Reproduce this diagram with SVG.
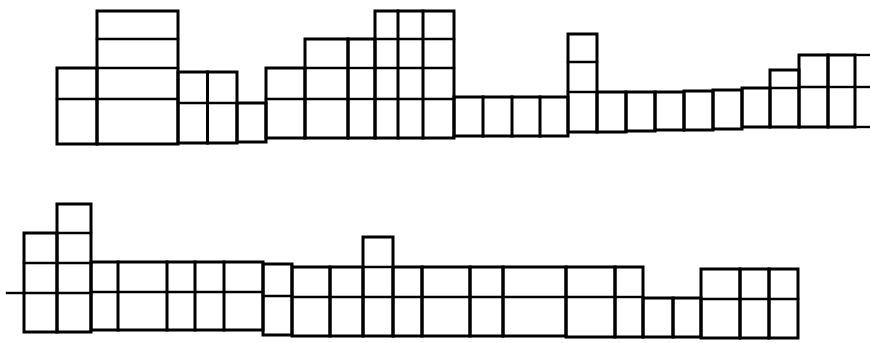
<svg xmlns="http://www.w3.org/2000/svg" width="870" height="343" viewBox="0 0 870 343">
<style>
rect,line,polyline{fill:none;stroke:#000;stroke-width:3;stroke-linecap:square}
.t{stroke-width:2.4}
</style>
<rect x="0" y="0" width="870" height="343" fill="#fff" stroke="none" style="fill:#fff;stroke:none"/>
<g id="top-row">
<g id="A"><rect x="57" y="68" width="40" height="76"/><line class="t" x1="57" y1="99" x2="97" y2="99"/></g>
<g id="B"><rect x="97" y="11" width="81" height="133"/><line class="t" x1="97" y1="39" x2="178" y2="39"/><line class="t" x1="97" y1="68" x2="178" y2="68"/><line class="t" x1="97" y1="99" x2="178" y2="99"/></g>
<g id="C"><rect x="178" y="72" width="59" height="71"/><line x1="207.5" y1="72" x2="207.5" y2="143"/><line class="t" x1="178" y1="103" x2="237" y2="103"/></g>
<g id="D"><rect x="237" y="103" width="29" height="39"/></g>
<g id="E"><rect x="266" y="68" width="39" height="70"/><line class="t" x1="266" y1="99" x2="305" y2="99"/></g>
<g id="F"><rect x="305" y="39" width="43" height="99"/><line class="t" x1="305" y1="68" x2="348" y2="68"/><line class="t" x1="305" y1="99" x2="348" y2="99"/></g>
<g id="G"><rect x="348" y="39" width="27" height="99"/><line class="t" x1="348" y1="68" x2="375" y2="68"/><line class="t" x1="348" y1="99" x2="375" y2="99"/></g>
<g id="H"><rect x="375" y="11" width="79" height="127"/><line x1="398" y1="11" x2="398" y2="138"/><line x1="423" y1="11" x2="423" y2="138"/><line class="t" x1="375" y1="39" x2="454" y2="39"/><line class="t" x1="375" y1="68" x2="454" y2="68"/><line class="t" x1="375" y1="99" x2="454" y2="99"/></g>
<g id="I"><rect x="454" y="97" width="114" height="39"/><line x1="483" y1="97" x2="483" y2="136"/><line x1="512" y1="97" x2="512" y2="136"/><line x1="540" y1="97" x2="540" y2="136"/></g>
<g id="J"><rect x="568" y="34" width="29" height="98"/><line class="t" x1="568" y1="62" x2="597" y2="62"/><line class="t" x1="568" y1="92" x2="597" y2="92"/></g>
<g id="K"><rect x="597" y="92" width="29" height="40"/></g>
<g id="L"><rect x="626" y="92" width="29" height="39"/></g>
<g id="M"><rect x="655" y="92" width="29" height="38"/></g>
<g id="N"><rect x="684" y="91" width="29" height="39"/></g>
<g id="O"><rect x="713" y="90" width="29" height="39"/></g>
<g id="P"><rect x="742" y="88" width="28" height="39"/></g>
<g id="Q"><rect x="770" y="70" width="29" height="57"/><line class="t" x1="770" y1="88" x2="799" y2="88"/></g>
<g id="R"><rect x="799" y="55" width="29" height="72"/><line class="t" x1="799" y1="87" x2="828" y2="87"/></g>
<g id="S"><rect x="828" y="55" width="27" height="72"/><line class="t" x1="828" y1="87" x2="855" y2="87"/></g>
<g id="S-open"><line class="t" x1="855" y1="55" x2="870" y2="55"/><line class="t" x1="855" y1="87" x2="870" y2="87"/><line class="t" x1="855" y1="127" x2="870" y2="127"/></g>
</g>
<g id="bottom-row">
<g id="lead"><line class="t" x1="7" y1="293" x2="24" y2="293"/></g>
<g id="T"><rect x="24" y="233" width="33" height="99"/><line class="t" x1="24" y1="263" x2="57" y2="263"/><line class="t" x1="24" y1="293" x2="57" y2="293"/></g>
<g id="U"><rect x="57" y="204" width="34" height="128"/><line class="t" x1="57" y1="233" x2="91" y2="233"/><line class="t" x1="57" y1="263" x2="91" y2="263"/><line class="t" x1="57" y1="293" x2="91" y2="293"/></g>
<g id="V"><rect x="91" y="262" width="172" height="68"/><line x1="118" y1="262" x2="118" y2="330"/><line x1="167" y1="262" x2="167" y2="330"/><line x1="195" y1="262" x2="195" y2="330"/><line x1="224" y1="262" x2="224" y2="330"/><line class="t" x1="91" y1="292" x2="263" y2="292"/></g>
<g id="W"><rect x="263" y="264" width="29" height="71"/><line class="t" x1="263" y1="296" x2="292" y2="296"/></g>
<g id="X1"><rect x="292" y="267" width="38" height="69"/><line class="t" x1="292" y1="297" x2="330" y2="297"/></g>
<g id="X2"><rect x="330" y="267" width="33" height="69"/><line class="t" x1="330" y1="297" x2="363" y2="297"/></g>
<g id="Y"><rect x="363" y="237" width="30" height="99"/><line class="t" x1="363" y1="267" x2="393" y2="267"/><line class="t" x1="363" y1="297" x2="393" y2="297"/></g>
<g id="Z"><rect x="393" y="267" width="29" height="69"/><line class="t" x1="393" y1="297" x2="422" y2="297"/></g>
<g id="AA"><rect x="422" y="267" width="48" height="69"/><line class="t" x1="422" y1="297" x2="470" y2="297"/></g>
<g id="AB"><rect x="470" y="267" width="33" height="69"/><line class="t" x1="470" y1="297" x2="503" y2="297"/></g>
<g id="AC"><rect x="503" y="267" width="63" height="69"/><line class="t" x1="503" y1="297" x2="566" y2="297"/></g>
<g id="AD"><rect x="566" y="267" width="49" height="70"/><line class="t" x1="566" y1="297" x2="615" y2="297"/></g>
<g id="AE"><rect x="615" y="267" width="28" height="70"/><line class="t" x1="615" y1="297" x2="643" y2="297"/></g>
<g id="AF"><rect x="643" y="298" width="30" height="39"/></g>
<g id="AG"><rect x="673" y="298" width="28" height="39"/></g>
<g id="AH"><rect x="701" y="269" width="39" height="69"/><line class="t" x1="701" y1="299" x2="740" y2="299"/></g>
<g id="AI"><rect x="740" y="269" width="29" height="69"/><line class="t" x1="740" y1="299" x2="769" y2="299"/></g>
<g id="AJ"><rect x="769" y="269" width="29" height="69"/><line class="t" x1="769" y1="299" x2="798" y2="299"/></g>
</g>
</svg>
